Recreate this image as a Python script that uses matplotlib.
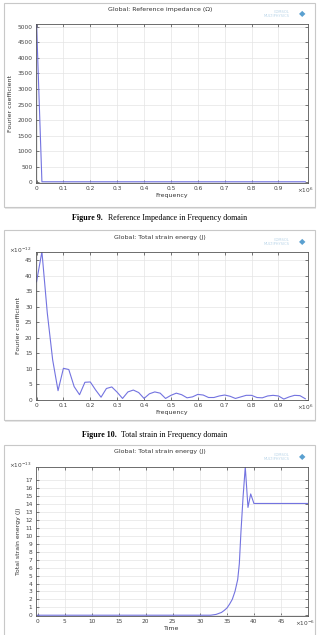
import matplotlib
matplotlib.use("Agg")
import matplotlib.pyplot as plt
from matplotlib.patches import Rectangle

# ---- data ----
# Figure 9: reference impedance spectrum (x in units of 1e6)
imp_freq = [0.0, 0.02, 0.04, 0.5, 1.0]
imp_coef = [5120, 15, 15, 15, 15]

# Figure 10: total strain energy spectrum (y in units of 1e-12)
se_freq = [0.0, 0.02, 0.04, 0.06, 0.08, 0.10, 0.12, 0.14, 0.16, 0.18, 0.20,
           0.22, 0.24, 0.26, 0.28, 0.30, 0.32, 0.34, 0.36, 0.38, 0.40,
           0.42, 0.44, 0.46, 0.48, 0.50, 0.52, 0.54, 0.56, 0.58, 0.60,
           0.62, 0.64, 0.66, 0.68, 0.70, 0.72, 0.74, 0.76, 0.78, 0.80,
           0.82, 0.84, 0.86, 0.88, 0.90, 0.92, 0.94, 0.96, 0.98, 1.00]
se_coef = [38.0, 47.7, 28.0, 12.9, 3.0, 10.2, 9.8, 4.3, 1.7, 5.7, 5.8,
           3.2, 0.9, 3.7, 4.2, 2.5, 0.5, 2.6, 3.2, 2.4, 0.5,
           2.0, 2.6, 2.2, 0.5, 1.5, 2.2, 1.7, 0.7, 1.0, 1.8,
           1.6, 0.8, 0.8, 1.3, 1.6, 1.2, 0.5, 1.0, 1.5, 1.5,
           0.8, 0.7, 1.3, 1.5, 1.3, 0.3, 1.0, 1.5, 1.4, 0.4]

# Figure 11: total strain energy vs time (x in 1e-6, y in 1e-13)
t_time = [0.0, 32.0, 33.0, 34.0, 34.5, 35.0, 35.5, 36.0, 36.5, 37.0, 37.3,
          37.6, 38.0, 38.4, 38.9, 39.4, 40.0, 50.0]
t_energy = [0.0, 0.0, 0.1, 0.35, 0.6, 0.9, 1.4, 2.0, 3.0, 4.5, 6.5,
            10.5, 15.0, 18.7, 13.6, 15.3, 14.1, 14.1]

freq_labels = ["0", "0.1", "0.2", "0.3", "0.4", "0.5", "0.6", "0.7", "0.8", "0.9"]

line_col = "#7373e0"
W, H = 320, 635

fig = plt.figure(figsize=(3.2, 6.35), dpi=100)
fig.patch.set_facecolor("white")

def fy(py):
    return 1 - py / H

def frame(top, bottom):
    # gray panel border with a soft shadow like the screenshot
    fig.patches.append(Rectangle((5 / W, fy(bottom) - 2 / H), 311 / W, (bottom - top) / H,
                                 transform=fig.transFigure, facecolor="#e6e6e6",
                                 edgecolor="none", zorder=-2))
    fig.patches.append(Rectangle((4 / W, fy(bottom)), 311 / W, (bottom - top) / H,
                                 transform=fig.transFigure, facecolor="white",
                                 edgecolor="#c8c8c8", linewidth=0.8, zorder=-1))

def logo(py):
    fig.text(290 / W, fy(py), "COMSOL\nMULTIPHYSICS", fontsize=2.6, color="#b8d4e8",
             ha="right", va="center", linespacing=0.9)
    fig.text(302 / W, fy(py), "\u25C6", fontsize=6, color="#5aa0d0", ha="center", va="center")

def style(ax, xlim, ylim, xticks, yticks, xlab, ylab, mult_x, mult_y=None):
    ax.set_zorder(2)
    ax.set_xlim(*xlim)
    ax.set_ylim(*ylim)
    ax.set_xticks(xticks)
    ax.set_yticks(yticks)
    ax.grid(True, color="#e4e4e4", linewidth=0.5)
    ax.set_axisbelow(True)
    ax.tick_params(direction="in", length=2.5, width=0.5, labelsize=4.2,
                   colors="#444444", top=True, right=True, pad=2.5)
    for s in ax.spines.values():
        s.set_color("#555555")
        s.set_linewidth(0.6)
    ax.set_xlabel(xlab, fontsize=4.5, color="#333333", labelpad=1)
    ax.set_ylabel(ylab, fontsize=4.5, color="#333333", labelpad=3)
    # axis multipliers sit in the tick-label row / above the y ticks
    ax.annotate(mult_x, xy=(1.0, 0.0), xycoords="axes fraction", xytext=(-2, -5.2),
                textcoords="offset points", fontsize=4.2, color="#444444",
                ha="center", va="center")
    if mult_y:
        ax.annotate(mult_y, xy=(0.0, 1.0), xycoords="axes fraction", xytext=(-3, 1),
                    textcoords="offset points", fontsize=4.2, color="#444444",
                    ha="right", va="center")

# ---------------- Figure 9 ----------------
frame(3, 207)
ax1 = fig.add_axes([36 / W, fy(183), 272 / W, (183 - 24) / H])
ax1.plot(imp_freq, imp_coef, color=line_col, linewidth=0.8)
style(ax1, (-0.002, 1.01), (-25, 5090), [0, .1, .2, .3, .4, .5, .6, .7, .8, .9],
      range(0, 5001, 500), "Frequency", "Fourier coefficient", r"$\times10^{6}$")
ax1.set_xticklabels(freq_labels)
fig.text(0.5, fy(9), "Global: Reference impedance (\u03A9)", fontsize=4.5,
         color="#333333", ha="center", va="center")
logo(14)
fig.text(72 / W, fy(218), "Figure 9.", fontsize=5.8, fontweight="bold",
         family="Liberation Serif", ha="left", va="center")
fig.text(108 / W, fy(218), "Reference Impedance in Frequency domain", fontsize=5.8,
         family="Liberation Serif", ha="left", va="center")

# ---------------- Figure 10 ----------------
frame(230, 420)
ax2 = fig.add_axes([36 / W, fy(400), 272 / W, (400 - 252) / H])
ax2.plot(se_freq, se_coef, color=line_col, linewidth=0.8)
style(ax2, (-0.002, 1.01), (0, 47.6), [0, .1, .2, .3, .4, .5, .6, .7, .8, .9],
      range(0, 46, 5), "Frequency", "Fourier coefficient", r"$\times10^{6}$",
      r"$\times10^{-12}$")
ax2.set_xticklabels(freq_labels)
fig.text(0.5, fy(237), "Global: Total strain energy (J)", fontsize=4.5,
         color="#333333", ha="center", va="center")
logo(242)
fig.text(82 / W, fy(435), "Figure 10.", fontsize=5.8, fontweight="bold",
         family="Liberation Serif", ha="left", va="center")
fig.text(121 / W, fy(435), "Total strain in Frequency domain", fontsize=5.8,
         family="Liberation Serif", ha="left", va="center")

# ---------------- Figure 11 ----------------
frame(445, 637)
ax3 = fig.add_axes([36 / W, fy(616), 272 / W, (616 - 467) / H])
ax3.plot(t_time, t_energy, color=line_col, linewidth=0.8)
style(ax3, (-0.3, 50.0), (-0.1, 18.7), range(0, 46, 5), range(0, 18),
      "Time", "Total strain energy (J)", r"$\times10^{-6}$", r"$\times10^{-13}$")
fig.text(0.5, fy(452), "Global: Total strain energy (J)", fontsize=4.5,
         color="#333333", ha="center", va="center")
logo(457)

fig.savefig("out.png", dpi=100, facecolor="white")
